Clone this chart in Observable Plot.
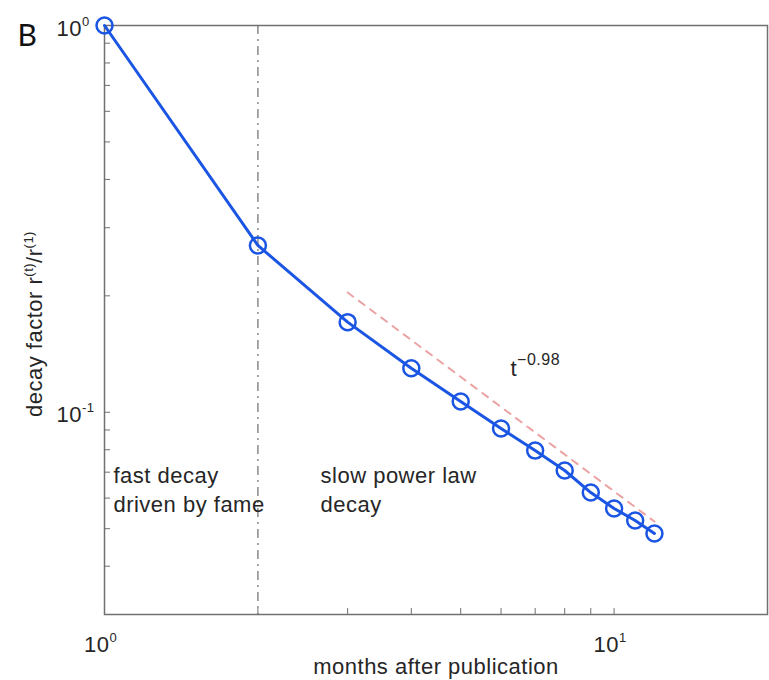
<!DOCTYPE html>
<html><head><meta charset="utf-8">
<script src="https://cdn.jsdelivr.net/npm/d3@7"></script>
<script src="https://cdn.jsdelivr.net/npm/@observablehq/plot@0.6"></script>
<style>
html,body{margin:0;padding:0;background:#fff;}
#chart{width:769px;height:680px;}
#chart svg text{letter-spacing:0.5px;}
</style>
</head><body><div id="chart"></div>
<script>
// data
const months = [1, 2, 3, 4, 5, 6, 7, 8, 9, 10, 11, 12];
const decay = [1.0, 0.270, 0.171, 0.130, 0.1066, 0.0908, 0.0796, 0.0707, 0.0620, 0.0564, 0.0525, 0.0486];
const fitMonths = [3, 12];
const fitDecay = [0.204, 0.0522];
const boundaryMonth = [2];
const xTickValues = [1, 10];
const xTickLabels = ["10^{0}", "10^{1}"];
const yTickValues = [1, 0.1];
const yTickLabels = ["10^{0}", "10^{-1}"];
const xMinorTicks = [2, 3, 4, 5, 6, 7, 8, 9, 10, 20];
const yMinorTicks = [0.03, 0.04, 0.05, 0.06, 0.07, 0.08, 0.09, 0.1, 0.2, 0.3, 0.4, 0.5, 0.6, 0.7, 0.8, 0.9];
const noteTexts = ["fast decay\ndriven by fame", "slow power law\ndecay"];
const noteMonths = [1.041, 2.654];
const noteDecay = [0.0551, 0.0551];
const fitLabelText = ["t^{−0.98}"];
const fitLabelMonth = [6.26];
const fitLabelDecay = [0.1238];

const series = months.map((m, i) => ({m, v: decay[i]}));
const fit = fitMonths.map((m, i) => ({m, v: fitDecay[i]}));
const notes = noteTexts.map((t, i) => ({m: noteMonths[i], v: noteDecay[i], t}));
const fitLabel = fitLabelText.map((t, i) => ({m: fitLabelMonth[i], v: fitLabelDecay[i], t}));

const blue = "#1b55e3";
const axisGray = "#707070";
const ink = "#262626";

const plot = Plot.plot({
  width: 769, height: 680,
  marginLeft: 104, marginRight: 2, marginTop: 25, marginBottom: 66,
  style: {fontFamily: "'Liberation Sans', Arial, sans-serif", fontSize: "22px", color: ink, background: "#fff"},
  x: {type: "log", domain: [1, 20]},
  y: {type: "log", domain: [0.03, 1]},
  marks: [
    Plot.ruleX(boundaryMonth, {stroke: "#8a8a8a", strokeWidth: 1.5, strokeDasharray: "9,5,2,5"}),
    Plot.frame({stroke: axisGray, strokeWidth: 1.5}),
    Plot.axisX(xMinorTicks, {tickSize: 6, dy: -6, fill: "none", stroke: axisGray, label: null}),
    Plot.axisY(yMinorTicks, {tickSize: 6, dx: 6, fill: "none", stroke: axisGray, label: null}),
    Plot.axisX(xTickValues, {tickSize: 0, tickPadding: 0, dy: 22, dx: -4, fill: ink, label: null,
      tickFormat: d => xTickLabels[xTickValues.indexOf(d)]}),
    Plot.axisY(yTickValues, {tickSize: 0, tickPadding: 0, textAnchor: "start", dx: -48, dy: 3, fill: ink, label: null,
      tickFormat: d => yTickLabels[yTickValues.indexOf(d)]}),
    Plot.line(fit, {x: "m", y: "v", stroke: "#eba3a3", strokeWidth: 2, strokeDasharray: "7,7"}),
    Plot.line(series, {x: "m", y: "v", stroke: blue, strokeWidth: 3}),
    Plot.dot(series, {x: "m", y: "v", r: 8, stroke: blue, strokeWidth: 2.5, fill: "none"}),
    Plot.text(notes, {x: "m", y: "v", text: "t", textAnchor: "start", lineAnchor: "bottom", lineHeight: 1.32, fill: ink}),
    Plot.text(fitLabel, {x: "m", y: "v", text: "t", textAnchor: "start", lineAnchor: "bottom", fill: ink}),
    Plot.text(["decay factor r^{(t)}/r^{(1)}"], {text: d => d, frameAnchor: "left", dx: -70, dy: 4, rotate: -90,
      textAnchor: "middle", lineAnchor: "middle", fill: ink}),
    Plot.text(["months after publication"], {text: d => d, frameAnchor: "bottom", dy: 59, lineAnchor: "bottom", fill: ink}),
    Plot.text(["B"], {text: d => d, frameAnchor: "top-left", dx: -87, dy: 20, textAnchor: "start", lineAnchor: "bottom",
      fontSize: 30, fontFamily: "Lato, 'Open Sans', sans-serif", fill: "#111"})
  ]
});

// turn ^{...} markers into real superscript tspans
const svgNS = "http://www.w3.org/2000/svg";
function applySup(el) {
  const s = el.textContent;
  if (!s.includes("^{") || el.querySelector("tspan")) return;
  let supSize = 13, raise = 10;
  if (s.startsWith("t^")) { supSize = 16; raise = 11; }
  else if (s.startsWith("decay")) { supSize = 13; raise = 9; }
  const parts = s.split(/(\^\{[^}]*\})/);
  el.textContent = "";
  let raised = false;
  for (const p of parts) {
    if (!p) continue;
    const ts = document.createElementNS(svgNS, "tspan");
    if (p.startsWith("^{")) {
      ts.textContent = p.slice(2, -1);
      ts.setAttribute("font-size", supSize);
      ts.setAttribute("dy", -raise);
      raised = true;
    } else {
      ts.textContent = p;
      if (raised) { ts.setAttribute("dy", raise); raised = false; }
    }
    el.appendChild(ts);
  }
}
plot.querySelectorAll("text").forEach(applySup);
document.getElementById("chart").appendChild(plot);
</script>
</body></html>
